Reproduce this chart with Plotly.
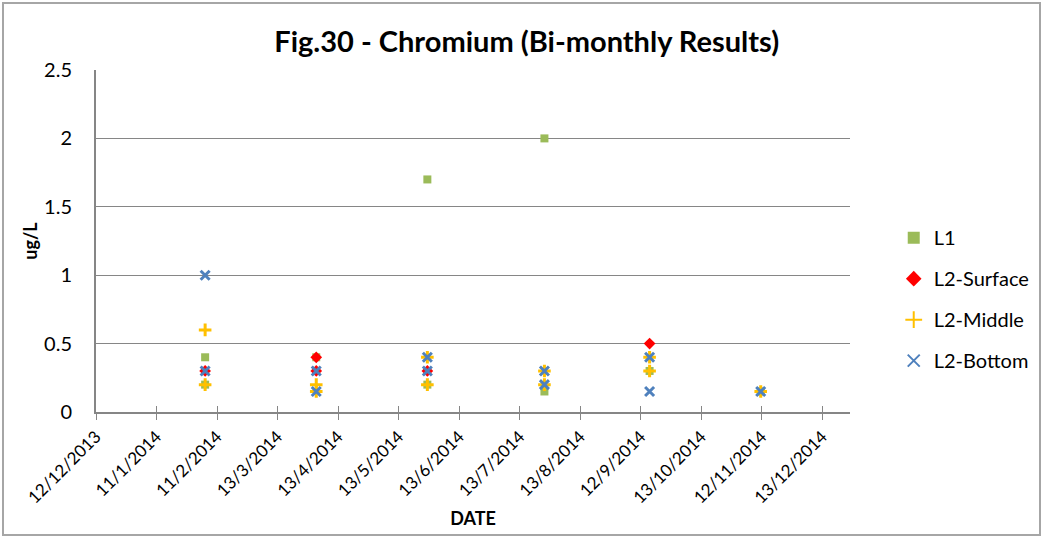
import pandas as pd
import plotly.graph_objects as go

# sampling dates and values (ug/L)
l1_dates = ["2014-02-05", "2014-02-05", "2014-04-02", "2014-05-28", "2014-05-28",
            "2014-07-26", "2014-07-26", "2014-09-17", "2014-11-12"]
l1_vals = [0.4, 0.2, 0.4, 1.7, 0.2, 2.0, 0.15, 0.3, 0.15]

surf_dates = ["2014-02-05", "2014-04-02", "2014-04-02", "2014-05-28", "2014-09-17"]
surf_vals = [0.3, 0.4, 0.3, 0.3, 0.5]

mid_dates = ["2014-02-05", "2014-02-05", "2014-04-02", "2014-04-02", "2014-05-28", "2014-05-28",
             "2014-07-26", "2014-07-26", "2014-09-17", "2014-09-17", "2014-11-12"]
mid_vals = [0.6, 0.2, 0.2, 0.15, 0.4, 0.2, 0.3, 0.2, 0.4, 0.3, 0.15]

bot_dates = ["2014-02-05", "2014-02-05", "2014-04-02", "2014-04-02", "2014-05-28", "2014-05-28",
             "2014-07-26", "2014-07-26", "2014-09-17", "2014-09-17", "2014-11-12"]
bot_vals = [1.0, 0.3, 0.3, 0.15, 0.4, 0.3, 0.3, 0.2, 0.4, 0.15, 0.15]

tick_labels = ["12/12/2013", "11/1/2014", "11/2/2014", "13/3/2014", "13/4/2014", "13/5/2014",
               "13/6/2014", "13/7/2014", "13/8/2014", "12/9/2014", "13/10/2014", "12/11/2014",
               "13/12/2014"]

# excel-style date axis: major unit of 30.5 days from 12/12/2013
start = pd.Timestamp("2013-12-12")
tick_vals = [start + pd.Timedelta(days=30.5 * i) for i in range(len(tick_labels))]
x_range = [start, start + pd.Timedelta(days=380)]

grey = "#868686"
font = "Lato, 'Open Sans', sans-serif"

fig = go.Figure()
fig.add_trace(go.Scatter(x=l1_dates, y=l1_vals, mode="markers", name="L1", legendgroup="a",
                         marker=dict(symbol="square", size=8, color="#9BBB59")))
fig.add_trace(go.Scatter(x=surf_dates, y=surf_vals, mode="markers", name="L2-Surface", legendgroup="b",
                         marker=dict(symbol="diamond", size=9, color="#FF0000")))
fig.add_trace(go.Scatter(x=mid_dates, y=mid_vals, mode="markers", name="L2-Middle", legendgroup="c",
                         marker=dict(symbol="cross-thin", size=9, color="#FFC000",
                                     line=dict(width=3, color="#FFC000"))))
fig.add_trace(go.Scatter(x=bot_dates, y=bot_vals, mode="markers", name="L2-Bottom", legendgroup="d",
                         marker=dict(symbol="x-thin", size=9, color="#4F81BD",
                                     line=dict(width=3, color="#4F81BD"))))
# dummy trace so the second x axis (upper half of the cross ticks) is drawn
fig.add_trace(go.Scatter(x=[start], y=[0], xaxis="x2", mode="markers",
                         marker=dict(opacity=0), showlegend=False, hoverinfo="skip"))

fig.update_layout(
    width=1043, height=537,
    margin=dict(l=96, r=193, t=70, b=125, autoexpand=False),
    paper_bgcolor="white", plot_bgcolor="white",
    font=dict(family=font, size=19, color="black"),
    title=dict(text="<b>Fig.30 - Chromium (Bi-monthly Results)</b>", x=0.505, xanchor="center",
               y=0.922, yanchor="middle", font=dict(size=29)),
    xaxis=dict(type="date", range=x_range, tickvals=tick_vals, ticktext=tick_labels,
               tickangle=-45, showgrid=False, showline=True, linecolor=grey, linewidth=2,
               ticks="outside", ticklen=6, tickcolor=grey, tickwidth=1, automargin=False,
               tickfont=dict(size=17),
               title=dict(text="<b>DATE</b>", font=dict(size=18), standoff=6)),
    xaxis2=dict(type="date", overlaying="x", matches="x", tickvals=tick_vals,
                showticklabels=False, ticks="inside", ticklen=6, tickcolor=grey,
                tickwidth=1, showgrid=False, showline=False, side="bottom", automargin=False),
    yaxis=dict(range=[0, 2.5], dtick=0.5, showgrid=True, gridcolor=grey, gridwidth=1,
               showline=True, linecolor=grey, linewidth=2, zeroline=False, automargin=False,
               tickfont=dict(size=20), ticklabelstandoff=18,
               title=dict(text="<b>ug/L</b>", font=dict(size=18), standoff=2)),
    legend=dict(x=1.058, y=0.33, xanchor="left", yanchor="middle", font=dict(size=20),
                tracegroupgap=12, itemsizing="constant", bgcolor="rgba(0,0,0,0)"),
    shapes=[dict(type="rect", xref="paper", yref="paper",
                 x0=-93 / 754, x1=944 / 754, y0=-123 / 342, y1=1 + 67 / 342,
                 line=dict(color="#A6A6A6", width=2), fillcolor="rgba(0,0,0,0)")],
)

# drop the browser's default 8px body margin so the chart sits at the page corner
fig.write_html("out.html", config={"displayModeBar": False},
               post_script="document.body.style.margin='0';")
